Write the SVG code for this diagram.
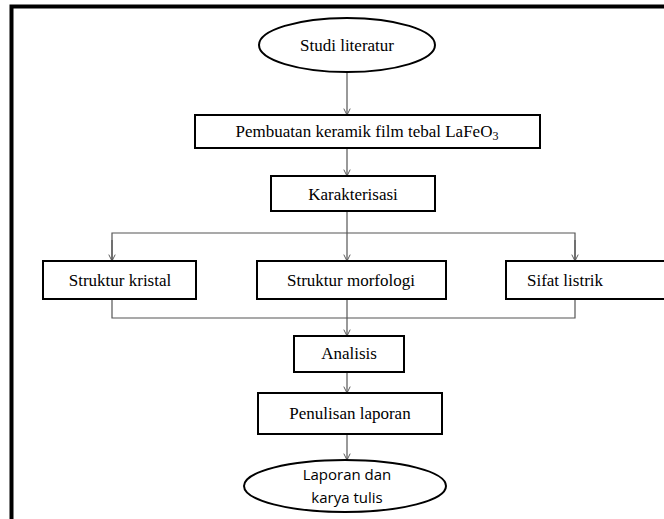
<svg xmlns="http://www.w3.org/2000/svg" width="664" height="519" viewBox="0 0 664 519">
<style>
.node{fill:#fff;stroke:#000;stroke-width:2}
.lbl{font-family:'Liberation Serif',serif;font-size:17px;fill:#000;text-anchor:middle;dominant-baseline:central}
.lbl2{font-family:'Open Sans','Liberation Sans',sans-serif;font-size:15px;fill:#000;text-anchor:middle;dominant-baseline:central}
.con{fill:none;stroke:#555;stroke-width:1.2}
.arr{marker-end:url(#ah)}
</style>
<defs>
<marker id="ah" viewBox="0 0 10 10" refX="9" refY="5" markerWidth="8" markerHeight="8" markerUnits="userSpaceOnUse" orient="auto">
<path d="M1,1 L9,5 L1,9" fill="none" stroke="#555" stroke-width="1.2"/>
</marker>
</defs>
<rect width="664" height="519" fill="#fff"/>
<path d="M11.5,519 L11.5,6.5 L664,6.5" fill="none" stroke="#000" stroke-width="4"/>
<g id="connectors">
<line class="con arr" x1="347" y1="72" x2="347" y2="115"/>
<line class="con arr" x1="347" y1="148" x2="347" y2="176"/>
<line class="con arr" x1="347" y1="211" x2="347" y2="261"/>
<polyline class="con" points="112,261 112,233 575,233 575,261"/>
<line class="con arr" x1="112" y1="240" x2="112" y2="261"/>
<line class="con arr" x1="575" y1="240" x2="575" y2="261"/>
<polyline class="con" points="112,299 112,318 575,318 575,299"/>
<line class="con arr" x1="347" y1="299" x2="347" y2="336"/>
<line class="con arr" x1="347" y1="372" x2="347" y2="393"/>
<line class="con arr" x1="347" y1="434" x2="347" y2="460"/>
</g>
<g id="studi">
<ellipse class="node" cx="347" cy="45" rx="88" ry="27"/>
<text class="lbl" font-family="Liberation Serif" x="347" y="45">Studi literatur</text>
</g>
<g id="pembuatan">
<rect class="node" x="195" y="115" width="345" height="33"/>
<text class="lbl" font-family="Liberation Serif" x="367" y="131">Pembuatan keramik film tebal LaFeO<tspan font-size="12" dy="5">3</tspan></text>
</g>
<g id="karakterisasi">
<rect class="node" x="271" y="176" width="164" height="35"/>
<text class="lbl" font-family="Liberation Serif" x="353" y="194">Karakterisasi</text>
</g>
<g id="kristal">
<rect class="node" x="43" y="261" width="153" height="38"/>
<text class="lbl" font-family="Liberation Serif" x="120" y="280">Struktur kristal</text>
</g>
<g id="morfologi">
<rect class="node" x="257" y="261" width="189" height="38"/>
<text class="lbl" font-family="Liberation Serif" x="351" y="280">Struktur morfologi</text>
</g>
<g id="listrik">
<rect class="node" x="506" y="261" width="170" height="38"/>
<text class="lbl" font-family="Liberation Serif" x="565" y="280">Sifat listrik</text>
</g>
<g id="analisis">
<rect class="node" x="294" y="336" width="110" height="36"/>
<text class="lbl" font-family="Liberation Serif" x="349" y="353">Analisis</text>
</g>
<g id="penulisan">
<rect class="node" x="258" y="393" width="184" height="41"/>
<text class="lbl" font-family="Liberation Serif" x="350" y="413">Penulisan laporan</text>
</g>
<g id="laporan">
<ellipse class="node" cx="345" cy="486" rx="101" ry="26"/>
<text class="lbl2" x="347" y="474">Laporan dan</text>
<text class="lbl2" x="347" y="497">karya tulis</text>
</g>
</svg>
